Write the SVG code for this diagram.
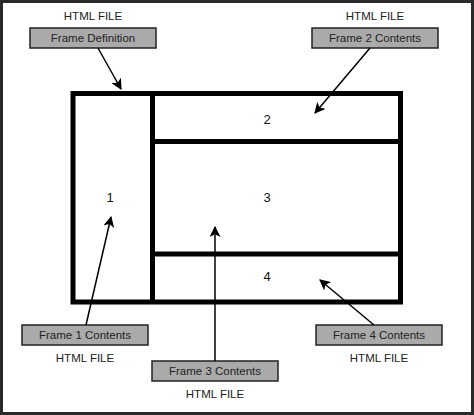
<svg xmlns="http://www.w3.org/2000/svg" width="474" height="415" viewBox="0 0 474 415">
<style>
.lbl{font-family:"Liberation Sans",Arial,sans-serif;font-size:11.5px;fill:#222;text-anchor:middle}
.num{font-family:"Liberation Sans",Arial,sans-serif;font-size:13px;fill:#111;text-anchor:middle}
.box{fill:#aaaaaa;stroke:#222;stroke-width:1.5}
.frame{fill:none;stroke:#000;stroke-width:5}
.conn{stroke:#000;stroke-width:1.5;fill:none}
</style>
<defs>
<marker id="ah" viewBox="0 0 10 10" refX="9" refY="5" markerWidth="11" markerHeight="11" markerUnits="userSpaceOnUse" orient="auto">
<path d="M0,0 L10,5 L0,10 L2.5,5 Z" fill="#000"/>
</marker>
</defs>
<rect x="1.5" y="1.5" width="471" height="412" fill="#fff" stroke="#2a2a2a" stroke-width="3"/>
<g id="frameset">
<rect class="frame" x="73" y="93.5" width="327.5" height="208.5"/>
<line class="frame" x1="152.5" y1="93.5" x2="152.5" y2="302"/>
<line class="frame" x1="152.5" y1="141.5" x2="400.5" y2="141.5"/>
<line class="frame" x1="152.5" y1="254" x2="400.5" y2="254"/>
<text class="num" x="110" y="202">1</text>
<text class="num" x="267" y="124">2</text>
<text class="num" x="267" y="202">3</text>
<text class="num" x="267" y="281">4</text>
</g>
<g id="frame-definition">
<text class="lbl" x="93" y="20">HTML FILE</text>
<rect class="box" x="30" y="28" width="126" height="20"/>
<text class="lbl" x="93" y="42">Frame Definition</text>
</g>
<g id="frame2-contents">
<text class="lbl" x="375" y="20">HTML FILE</text>
<rect class="box" x="312" y="28" width="126" height="20"/>
<text class="lbl" x="375" y="42">Frame 2 Contents</text>
</g>
<g id="frame1-contents">
<rect class="box" x="22" y="325" width="126" height="20"/>
<text class="lbl" x="85" y="339">Frame 1 Contents</text>
<text class="lbl" x="85" y="362">HTML FILE</text>
</g>
<g id="frame3-contents">
<rect class="box" x="152" y="361" width="126" height="20"/>
<text class="lbl" x="215" y="375">Frame 3 Contents</text>
<text class="lbl" x="215" y="398">HTML FILE</text>
</g>
<g id="frame4-contents">
<rect class="box" x="316" y="325" width="126" height="20"/>
<text class="lbl" x="379" y="339">Frame 4 Contents</text>
<text class="lbl" x="379" y="362">HTML FILE</text>
</g>
<g id="connectors">
<line class="conn" x1="98" y1="48" x2="121" y2="89" marker-end="url(#ah)"/>
<line class="conn" x1="370" y1="48" x2="315" y2="113" marker-end="url(#ah)"/>
<line class="conn" x1="86" y1="325" x2="111" y2="217" marker-end="url(#ah)"/>
<line class="conn" x1="215" y1="361" x2="215" y2="227" marker-end="url(#ah)"/>
<line class="conn" x1="374" y1="325" x2="320" y2="280" marker-end="url(#ah)"/>
</g>
</svg>
